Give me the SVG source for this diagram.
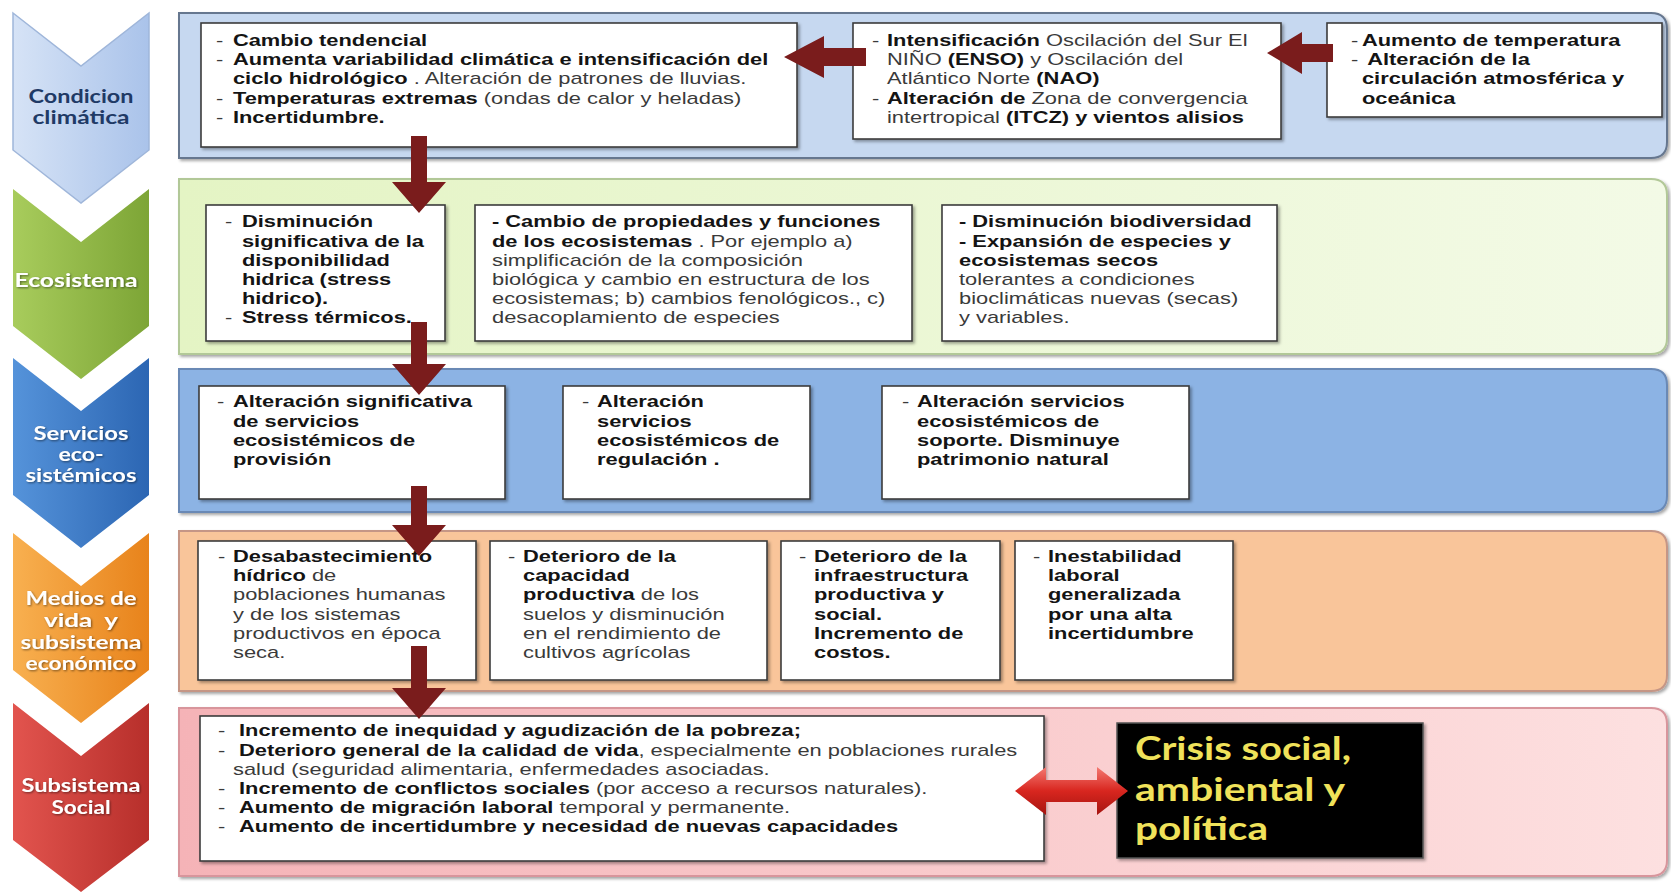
<svg xmlns="http://www.w3.org/2000/svg" width="1671" height="893" viewBox="0 0 1671 893" xml:space="preserve">
<defs>
<style>
.t{font-family:"Liberation Sans",Arial,sans-serif;font-size:16px;fill:#3a3a3a;white-space:pre}
.b{font-weight:bold;fill:#141414}
.box{fill:#fff;stroke:#3c3c3c;stroke-width:1.6;filter:url(#sh)}
.band{stroke-width:2;filter:url(#sh)}
.cl{font-family:Lato,"Open Sans",sans-serif;font-weight:bold;font-size:18px;text-anchor:middle;fill:#fff}
.arr{fill:#7a1c1c}
.cr{font-family:Lato,"Open Sans",sans-serif;font-weight:bold;font-size:32px;fill:#f0e25a}
</style>
<filter id="sh" x="-5%" y="-10%" width="110%" height="130%"><feDropShadow dx="2" dy="2" stdDeviation="1.5" flood-color="#000" flood-opacity="0.35"/></filter>
<filter id="tsh" x="-10%" y="-20%" width="120%" height="150%"><feDropShadow dx="1" dy="1" stdDeviation="0.8" flood-color="#000" flood-opacity="0.5"/></filter>
<linearGradient id="g1" x1="0" y1="0" x2="1" y2="0"><stop offset="0" stop-color="#d6e3f6"/><stop offset="1" stop-color="#aac3ea"/></linearGradient>
<linearGradient id="g2" x1="0" y1="0" x2="1" y2="0"><stop offset="0" stop-color="#a8cc5c"/><stop offset="1" stop-color="#7da536"/></linearGradient>
<linearGradient id="g3" x1="0" y1="0" x2="1" y2="0"><stop offset="0" stop-color="#5593da"/><stop offset="1" stop-color="#2c66b3"/></linearGradient>
<linearGradient id="g4" x1="0" y1="0" x2="1" y2="0"><stop offset="0" stop-color="#f8b050"/><stop offset="1" stop-color="#e8831b"/></linearGradient>
<linearGradient id="g5" x1="0" y1="0" x2="1" y2="0"><stop offset="0" stop-color="#e2544e"/><stop offset="1" stop-color="#b72f2b"/></linearGradient>
<linearGradient id="bg2" x1="0" y1="0" x2="1" y2="0"><stop offset="0" stop-color="#e4f4c4"/><stop offset="1" stop-color="#f3fae6"/></linearGradient>
<linearGradient id="bg5" x1="0" y1="0" x2="1" y2="0"><stop offset="0" stop-color="#f5b3b7"/><stop offset="1" stop-color="#fde0e0"/></linearGradient>
<linearGradient id="dbl" x1="0" y1="0" x2="0" y2="1"><stop offset="0" stop-color="#f47a72"/><stop offset="0.5" stop-color="#d8261f"/><stop offset="1" stop-color="#a51410"/></linearGradient>
</defs>
<rect width="1671" height="893" fill="#fff"/>
<g id="bands">
<path class="band" fill="#c6d8f0" stroke="#66778f" d="M179,13 H1651 Q1667,13 1667,29 V142 Q1667,158 1651,158 H179 Z"/>
<path class="band" fill="url(#bg2)" stroke="#b2c898" d="M179,179 H1651 Q1667,179 1667,195 V338 Q1667,354 1651,354 H179 Z"/>
<path class="band" fill="#8cb3e4" stroke="#6a89b5" d="M179,369 H1651 Q1667,369 1667,385 V496 Q1667,512 1651,512 H179 Z"/>
<path class="band" fill="#f9c59a" stroke="#c59686" d="M179,531 H1651 Q1667,531 1667,547 V675 Q1667,691 1651,691 H179 Z"/>
<path class="band" fill="url(#bg5)" stroke="#d8959c" d="M179,708 H1651 Q1667,708 1667,724 V860 Q1667,876 1651,876 H179 Z"/>
</g>
<g id="chev-condicion">
<path fill="url(#g1)" stroke="#9fb6da" stroke-width="1.5" d="M13,13 L81,66 L149,13 V150 L81,203 L13,150 Z"/>
<text class="cl" x="81" y="103" textLength="105" lengthAdjust="spacingAndGlyphs" style="fill:#1f3a66">Condicion</text>
<text class="cl" x="81" y="124" textLength="97" lengthAdjust="spacingAndGlyphs" style="fill:#1f3a66">climática</text>
</g>
<g id="chev-ecosistema">
<path fill="url(#g2)" d="M13,189 L81,242 L149,189 V326 L81,379 L13,326 Z"/>
<text class="cl" x="76" y="287" textLength="123" lengthAdjust="spacingAndGlyphs" filter="url(#tsh)">Ecosistema</text>
</g>
<g id="chev-servicios">
<path fill="url(#g3)" d="M13,358 L81,411 L149,358 V495 L81,548 L13,495 Z"/>
<text class="cl" x="81" y="440" textLength="95" lengthAdjust="spacingAndGlyphs" filter="url(#tsh)">Servicios</text>
<text class="cl" x="81" y="461" textLength="45" lengthAdjust="spacingAndGlyphs" filter="url(#tsh)">eco-</text>
<text class="cl" x="81" y="482" textLength="111" lengthAdjust="spacingAndGlyphs" filter="url(#tsh)">sistémicos</text>
</g>
<g id="chev-medios">
<path fill="url(#g4)" d="M13,533 L81,586 L149,533 V670 L81,723 L13,670 Z"/>
<text class="cl" x="81" y="605" textLength="111" lengthAdjust="spacingAndGlyphs" filter="url(#tsh)">Medios de</text>
<text class="cl" x="81" y="627" textLength="74" lengthAdjust="spacingAndGlyphs" filter="url(#tsh)" style="white-space:pre">vida  y</text>
<text class="cl" x="81" y="649" textLength="121" lengthAdjust="spacingAndGlyphs" filter="url(#tsh)">subsistema</text>
<text class="cl" x="81" y="670" textLength="111" lengthAdjust="spacingAndGlyphs" filter="url(#tsh)">económico</text>
</g>
<g id="chev-social">
<path fill="url(#g5)" d="M13,703 L81,756 L149,703 V840 L81,892 L13,840 Z"/>
<text class="cl" x="81" y="792" textLength="119" lengthAdjust="spacingAndGlyphs" filter="url(#tsh)">Subsistema</text>
<text class="cl" x="81" y="814" textLength="59" lengthAdjust="spacingAndGlyphs" filter="url(#tsh)">Social</text>
</g>
<g id="box-1a">
<rect class="box" x="201" y="23" width="596" height="124"/>
<g class="t" transform="translate(216 0) scale(1.366 1)">
<text y="46"><tspan x="0">-</tspan><tspan x="12.4" class="b">Cambio tendencial</tspan></text>
<text y="65.2"><tspan x="0">-</tspan><tspan x="12.4" class="b">Aumenta variabilidad  climática e intensificación del</tspan></text>
<text y="84.4"><tspan x="12.4" class="b">ciclo hidrológico</tspan><tspan> . Alteración de patrones de lluvias.</tspan></text>
<text y="103.6"><tspan x="0">-</tspan><tspan x="12.4" class="b">Temperaturas extremas</tspan><tspan> (ondas de calor y heladas)</tspan></text>
<text y="122.8"><tspan x="0">-</tspan><tspan x="12.4" class="b">Incertidumbre.</tspan></text>
</g>
</g>
<g id="box-1b">
<rect class="box" x="853" y="23" width="428" height="116"/>
<g class="t" transform="translate(872 0) scale(1.366 1)">
<text y="46"><tspan x="0">-</tspan><tspan x="11" class="b">Intensificación</tspan><tspan> Oscilación del Sur El</tspan></text>
<text y="65.2"><tspan x="11">NIÑO </tspan><tspan class="b">(ENSO)</tspan><tspan>  y Oscilación del</tspan></text>
<text y="84.4"><tspan x="11">Atlántico Norte </tspan><tspan class="b">(NAO)</tspan></text>
<text y="103.6"><tspan x="0">-</tspan><tspan x="11" class="b">Alteración de</tspan><tspan> Zona de convergencia</tspan></text>
<text y="122.8"><tspan x="11">intertropical </tspan><tspan class="b">(ITCZ)  y vientos alisios</tspan></text>
</g>
</g>
<g id="box-1c">
<rect class="box" x="1327" y="23" width="335" height="94"/>
<g class="t" transform="translate(1351 0) scale(1.366 1)">
<text y="46"><tspan x="0">-</tspan><tspan x="8" class="b">Aumento de temperatura</tspan></text>
<text y="65.2"><tspan x="0">-</tspan><tspan x="8" class="b"> Alteración de la</tspan></text>
<text y="84.4"><tspan x="8" class="b">circulación atmosférica y</tspan></text>
<text y="103.6"><tspan x="8" class="b">oceánica</tspan></text>
</g>
</g>
<g id="box-2a">
<rect class="box" x="206" y="205" width="239" height="136"/>
<g class="t" transform="translate(225 0) scale(1.366 1)">
<text y="227.5"><tspan x="0">-</tspan><tspan x="12.4" class="b">Disminución</tspan></text>
<text y="246.7"><tspan x="12.4" class="b">significativa de la</tspan></text>
<text y="265.9"><tspan x="12.4" class="b">disponibilidad</tspan></text>
<text y="285.1"><tspan x="12.4" class="b">hidrica (stress</tspan></text>
<text y="304.3"><tspan x="12.4" class="b">hidrico).</tspan></text>
<text y="323.5"><tspan x="0">-</tspan><tspan x="12.4" class="b">Stress térmicos.</tspan></text>
</g>
</g>
<g id="box-2b">
<rect class="box" x="475" y="205" width="437" height="136"/>
<g class="t" transform="translate(492 0) scale(1.366 1)">
<text y="227.5" class="b">- Cambio de propiedades y funciones</text>
<text y="246.7"><tspan class="b">de los ecosistemas</tspan><tspan> . Por ejemplo a)</tspan></text>
<text y="265.9">simplificación de la composición</text>
<text y="285.1">biológica y cambio en estructura de los</text>
<text y="304.3">ecosistemas; b) cambios fenológicos., c)</text>
<text y="323.5">desacoplamiento de especies</text>
</g>
</g>
<g id="box-2c">
<rect class="box" x="942" y="205" width="335" height="136"/>
<g class="t" transform="translate(959 0) scale(1.366 1)">
<text y="227.5" class="b">- Disminución biodiversidad</text>
<text y="246.7" class="b">- Expansión de especies y</text>
<text y="265.9" class="b">ecosistemas secos</text>
<text y="285.1">tolerantes a condiciones</text>
<text y="304.3">bioclimáticas nuevas  (secas)</text>
<text y="323.5">y variables.</text>
</g>
</g>
<g id="box-3a">
<rect class="box" x="199" y="386" width="306" height="113"/>
<g class="t" transform="translate(217 0) scale(1.366 1)">
<text y="407.5"><tspan x="0">-</tspan><tspan x="11.7" class="b">Alteración significativa</tspan></text>
<text y="426.7"><tspan x="11.7" class="b">de servicios</tspan></text>
<text y="445.9"><tspan x="11.7" class="b">ecosistémicos de</tspan></text>
<text y="465.1"><tspan x="11.7" class="b">provisión</tspan></text>
</g>
</g>
<g id="box-3b">
<rect class="box" x="563" y="386" width="247" height="113"/>
<g class="t" transform="translate(582 0) scale(1.366 1)">
<text y="407.5"><tspan x="0">-</tspan><tspan x="11" class="b">Alteración</tspan></text>
<text y="426.7"><tspan x="11" class="b">servicios</tspan></text>
<text y="445.9"><tspan x="11" class="b">ecosistémicos de</tspan></text>
<text y="465.1"><tspan x="11" class="b">regulación .</tspan></text>
</g>
</g>
<g id="box-3c">
<rect class="box" x="882" y="386" width="307" height="113"/>
<g class="t" transform="translate(902 0) scale(1.366 1)">
<text y="407.5"><tspan x="0">-</tspan><tspan x="11" class="b">Alteración servicios</tspan></text>
<text y="426.7"><tspan x="11" class="b">ecosistémicos de</tspan></text>
<text y="445.9"><tspan x="11" class="b">soporte. Disminuye</tspan></text>
<text y="465.1"><tspan x="11" class="b">patrimonio natural</tspan></text>
</g>
</g>
<g id="box-4a">
<rect class="box" x="198" y="541" width="278" height="139"/>
<g class="t" transform="translate(218 0) scale(1.366 1)">
<text y="562"><tspan x="0">-</tspan><tspan x="11" class="b">Desabastecimiento</tspan></text>
<text y="581.2"><tspan x="11" class="b">hídrico</tspan><tspan>  de</tspan></text>
<text y="600.4"><tspan x="11">poblaciones humanas</tspan></text>
<text y="619.6"><tspan x="11">y de los sistemas</tspan></text>
<text y="638.8"><tspan x="11">productivos en época</tspan></text>
<text y="658"><tspan x="11">seca.</tspan></text>
</g>
</g>
<g id="box-4b">
<rect class="box" x="490" y="541" width="277" height="139"/>
<g class="t" transform="translate(508 0) scale(1.366 1)">
<text y="562"><tspan x="0">-</tspan><tspan x="11" class="b">Deterioro de la</tspan></text>
<text y="581.2"><tspan x="11" class="b">capacidad</tspan></text>
<text y="600.4"><tspan x="11" class="b">productiva</tspan><tspan> de los</tspan></text>
<text y="619.6"><tspan x="11">suelos y disminución</tspan></text>
<text y="638.8"><tspan x="11">en el rendimiento de</tspan></text>
<text y="658"><tspan x="11">cultivos  agrícolas</tspan></text>
</g>
</g>
<g id="box-4c">
<rect class="box" x="781" y="541" width="219" height="139"/>
<g class="t" transform="translate(799 0) scale(1.366 1)">
<text y="562"><tspan x="0">-</tspan><tspan x="11" class="b">Deterioro de la</tspan></text>
<text y="581.2"><tspan x="11" class="b">infraestructura</tspan></text>
<text y="600.4"><tspan x="11" class="b">productiva y</tspan></text>
<text y="619.6"><tspan x="11" class="b">social.</tspan></text>
<text y="638.8"><tspan x="11" class="b">Incremento de</tspan></text>
<text y="658"><tspan x="11" class="b">costos.</tspan></text>
</g>
</g>
<g id="box-4d">
<rect class="box" x="1015" y="541" width="218" height="139"/>
<g class="t" transform="translate(1033 0) scale(1.366 1)">
<text y="562"><tspan x="0">-</tspan><tspan x="11" class="b">Inestabilidad</tspan></text>
<text y="581.2"><tspan x="11" class="b">laboral</tspan></text>
<text y="600.4"><tspan x="11" class="b">generalizada</tspan></text>
<text y="619.6"><tspan x="11" class="b">por  una alta</tspan></text>
<text y="638.8"><tspan x="11" class="b">incertidumbre</tspan></text>
</g>
</g>
<g id="box-5a">
<rect class="box" x="200" y="716" width="844" height="145"/>
<g class="t" transform="translate(218 0) scale(1.366 1)">
<text y="736.5"><tspan x="0">-</tspan><tspan x="15.4" class="b">Incremento de inequidad y agudización de la pobreza;</tspan></text>
<text y="755.7"><tspan x="0">-</tspan><tspan x="15.4" class="b">Deterioro general de la calidad de vida</tspan><tspan>, especialmente en poblaciones rurales</tspan></text>
<text y="774.9"><tspan x="11">salud (seguridad alimentaria, enfermedades asociadas.</tspan></text>
<text y="794.1"><tspan x="0">-</tspan><tspan x="15.4" class="b">Incremento de conflictos sociales</tspan><tspan> (por acceso a recursos naturales).</tspan></text>
<text y="813.3"><tspan x="0">-</tspan><tspan x="15.4" class="b">Aumento de migración laboral</tspan><tspan> temporal y permanente.</tspan></text>
<text y="832.5"><tspan x="0">-</tspan><tspan x="15.4" class="b">Aumento de incertidumbre y necesidad de nuevas capacidades</tspan></text>
</g>
</g>
<g id="crisis">
<rect x="1117" y="723" width="306" height="135" fill="#000" stroke="#555" stroke-width="1.5" filter="url(#sh)"/>
<text class="cr" x="1135" y="760" textLength="216" lengthAdjust="spacingAndGlyphs">Crisis social,</text>
<text class="cr" x="1135" y="801" textLength="210" lengthAdjust="spacingAndGlyphs">ambiental y</text>
<text class="cr" x="1135" y="840" textLength="133" lengthAdjust="spacingAndGlyphs">política</text>
</g>
<g id="connectors">
<path class="arr" d="M866,48 H824 V36 L784,57 L824,78 V66 H866 Z"/>
<path class="arr" d="M1333,44 H1302 V32 L1267,53 L1302,74 V62 H1333 Z"/>
<path class="arr" d="M411,136 H427 V182 H446 L419,213 L392,182 H411 Z"/>
<path class="arr" d="M411,322 H427 V364 H446 L419,395 L392,364 H411 Z"/>
<path class="arr" d="M411,486 H427 V525 H446 L419,556 L392,525 H411 Z"/>
<path class="arr" d="M411,646 H427 V688 H446 L419,719 L392,688 H411 Z"/>
<path fill="url(#dbl)" d="M1015,791 L1046,767 V780 H1097 V767 L1128,791 L1097,815 V802 H1046 V815 Z"/>
</g>
</svg>
